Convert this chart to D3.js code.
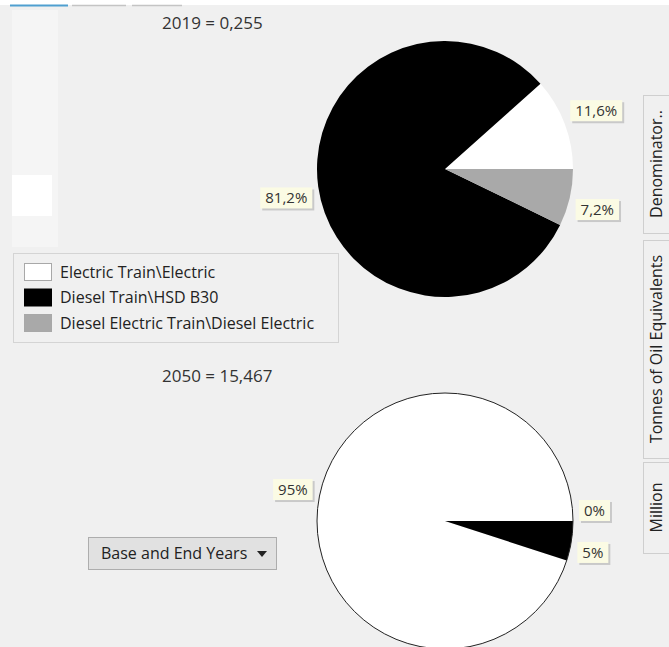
<!DOCTYPE html>
<html>
<head>
<meta charset="utf-8">
<script src="https://cdn.jsdelivr.net/npm/d3@7"></script>
<style>
  html, body { margin: 0; padding: 0; background: #f0f0f0; overflow: hidden; }
  svg { display: block; font-family: "Open Sans", "Noto Sans", sans-serif; }
</style>
</head>
<body>
<div id="drawing-area"></div>
<script>
var categories = ['Electric Train\\Electric', 'Diesel Train\\HSD B30', 'Diesel Electric Train\\Diesel Electric'];
var sliceColors = ['#ffffff', '#000000', '#a9a9a9'];
var years = [2019, 2050];
var totals = [0.255, 15.467];
var shares2019 = [11.6, 81.2, 7.2];
var shares2050 = [95, 5, 0];
var sideTabs = ['Denominator..', 'Tonnes of Oil Equivalents', 'Million'];
var dropdownLabel = 'Base and End Years';

(function () {
  var width = 669, height = 647;
  var locale = d3.formatLocale({ decimal: ',', thousands: '.', grouping: [3], currency: ['', ''] });
  var fmtShare = locale.format('.1~f');
  var fmtTotal = locale.format('.3f');

  var svg = d3.select('div#drawing-area').append('svg')
    .attr('width', width)
    .attr('height', height);

  svg.append('rect').attr('width', width).attr('height', height).attr('fill', '#f0f0f0');

  // strip of the window above (cut off)
  svg.append('rect').attr('width', width).attr('height', 5).attr('fill', '#ffffff');
  svg.append('line').attr('x1', 10).attr('x2', 68).attr('y1', 5.5).attr('y2', 5.5)
    .attr('stroke', '#4f9fd0').attr('stroke-width', 2);
  [[72, 126], [132, 182]].forEach(function (s) {
    svg.append('line').attr('x1', s[0]).attr('x2', s[1]).attr('y1', 5.5).attr('y2', 5.5)
      .attr('stroke', '#c4c4c4').attr('stroke-width', 1.5);
  });

  // faint side panel on the left
  svg.append('rect').attr('x', 12).attr('y', 10).attr('width', 46).attr('height', 237).attr('fill', '#f5f5f5');
  svg.append('rect').attr('x', 12).attr('y', 175).attr('width', 40).attr('height', 41).attr('fill', '#ffffff');

  var radius = 128;
  var pies = [
    { year: years[0], total: totals[0], shares: shares2019, cx: 445, cy: 169, titleY: 29, outline: false },
    { year: years[1], total: totals[1], shares: shares2050, cx: 445, cy: 521, titleY: 382, outline: true }
  ];

  var pie = d3.pie()
    .sort(null)
    .value(function (d) { return d; })
    .startAngle(Math.PI / 2)
    .endAngle(Math.PI / 2 - 2 * Math.PI);

  var arc = d3.arc().innerRadius(0).outerRadius(radius);
  var labelArc = d3.arc().innerRadius(radius + 6).outerRadius(radius + 6);

  pies.forEach(function (p) {
    svg.append('text')
      .attr('x', 162)
      .attr('y', p.titleY)
      .attr('font-size', 17)
      .attr('fill', '#333')
      .text(p.year + ' = ' + fmtTotal(p.total));

    var g = svg.append('g').attr('transform', 'translate(' + p.cx + ',' + p.cy + ')');
    var arcs = pie(p.shares);

    g.selectAll('path.slice')
      .data(arcs)
      .enter().append('path')
      .attr('class', 'slice')
      .attr('d', arc)
      .attr('fill', function (d, i) { return sliceColors[i]; });

    if (p.outline) {
      g.append('circle').attr('r', radius).attr('fill', 'none')
        .attr('stroke', '#222').attr('stroke-width', 1);
    }

    var labels = g.selectAll('g.callout')
      .data(arcs)
      .enter().append('g')
      .attr('class', 'callout');

    labels.each(function (d) {
      var lg = d3.select(this);
      var c = labelArc.centroid(d);
      var txt = lg.append('text')
        .attr('font-size', 15)
        .attr('fill', '#333')
        .text(fmtShare(d.data) + '%');
      var tw = txt.node().getComputedTextLength();
      var w = tw + 10, h = 21;
      var bx = c[0] >= 0 ? c[0] : c[0] - w;
      var by = c[1] < 1 ? c[1] - h : c[1];
      lg.insert('rect', 'text').attr('x', bx + 2).attr('y', by + 2).attr('width', w).attr('height', h)
        .attr('fill', 'rgba(0,0,0,0.16)');
      lg.insert('rect', 'text').attr('x', bx).attr('y', by).attr('width', w).attr('height', h)
        .attr('fill', '#fbfbe4');
      txt.attr('x', bx + 5).attr('y', by + h / 2).attr('dy', '0.35em');
    });
  });

  // legend
  var legend = svg.append('g').attr('transform', 'translate(13,253)');
  legend.append('rect').attr('x', 0.5).attr('y', 0.5).attr('width', 325).attr('height', 89)
    .attr('fill', '#f0f0f0').attr('stroke', '#d4d4d4');
  var rowScale = d3.scalePoint().domain(categories).range([19, 70]);
  var rows = legend.selectAll('g.row').data(categories).enter().append('g')
    .attr('class', 'row')
    .attr('transform', function (d) { return 'translate(0,' + rowScale(d) + ')'; });
  rows.append('rect')
    .attr('x', 11.5).attr('y', -8.5).attr('width', 27).attr('height', 17)
    .attr('fill', function (d, i) { return sliceColors[i]; })
    .attr('stroke', function (d, i) { return i === 1 ? '#000' : '#a8a8a8'; });
  rows.append('text')
    .attr('x', 47).attr('dy', '0.35em')
    .attr('font-size', 16).attr('fill', '#222')
    .text(function (d) { return d; });

  // dropdown
  var dd = svg.append('g').attr('transform', 'translate(88,537)');
  dd.append('rect').attr('x', 0.5).attr('y', 0.5).attr('width', 188).attr('height', 32)
    .attr('fill', '#e1e1e1').attr('stroke', '#adadad');
  dd.append('text').attr('x', 13).attr('y', 16.5).attr('dy', '0.35em')
    .attr('font-size', 16).attr('fill', '#222').text(dropdownLabel);
  dd.append('path').attr('d', 'M169,14 L179,14 L174,20 Z').attr('fill', '#222');

  // vertical tabs on the right
  var tabSpans = [[95, 233], [240, 458], [462, 553]];
  var tabs = svg.selectAll('g.tab').data(sideTabs).enter().append('g').attr('class', 'tab');
  tabs.append('rect')
    .attr('x', 643.5)
    .attr('y', function (d, i) { return tabSpans[i][0] + 0.5; })
    .attr('width', 28)
    .attr('height', function (d, i) { return tabSpans[i][1] - tabSpans[i][0]; })
    .attr('fill', '#f0f0f0').attr('stroke', '#cfcfcf');
  tabs.append('text')
    .attr('transform', function (d, i) {
      return 'translate(656,' + (tabSpans[i][0] + tabSpans[i][1]) / 2 + ') rotate(-90)';
    })
    .attr('text-anchor', 'middle').attr('dy', '0.35em')
    .attr('font-size', 16).attr('fill', '#222')
    .text(function (d) { return d; });
})();
</script>
</body>
</html>
